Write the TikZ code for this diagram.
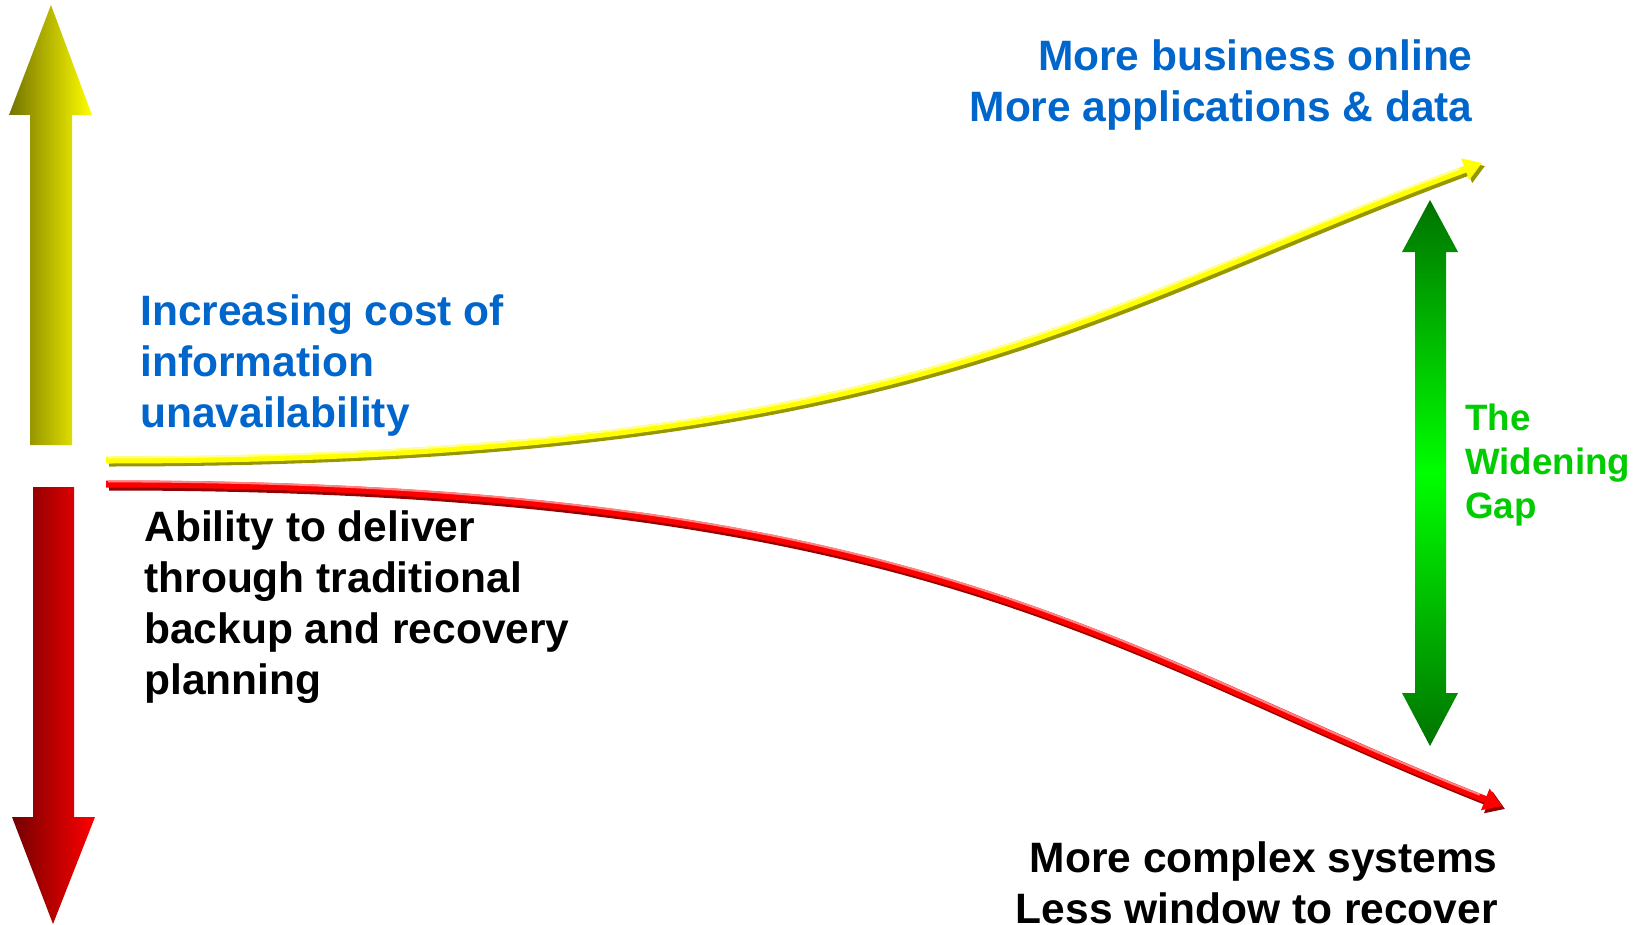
\documentclass[tikz,border=0pt]{standalone}
\usepackage{fontspec}
\setmainfont{Liberation Sans}
\usetikzlibrary{arrows.meta}
\definecolor{tblue}{RGB}{0,102,204}
\definecolor{tgreen}{RGB}{0,204,0}
\definecolor{ylight}{RGB}{255,255,150}
\definecolor{ymain}{RGB}{255,255,0}
\definecolor{ydark}{RGB}{150,150,0}
\definecolor{rlight}{RGB}{255,130,130}
\definecolor{rmain}{RGB}{255,0,0}
\definecolor{rdark}{RGB}{150,0,0}
\definecolor{ydeep}{RGB}{115,115,0}
\definecolor{rdeep}{RGB}{115,0,0}
\definecolor{gdeep}{RGB}{0,115,0}
\definecolor{gbright}{RGB}{0,255,0}
\begin{document}
\begin{tikzpicture}[x=0.5pt,y=-0.5pt,
  lbl/.style={font=\bfseries\fontsize{21.25}{25.5}\selectfont, inner sep=0pt, align=left},
  gaplbl/.style={font=\bfseries\fontsize{18.35}{22}\selectfont, inner sep=0pt, align=left, text=tgreen},
  tip/.style={-{Triangle[length=9pt,width=11pt]}},
  shadowline/.style={line width=3.5pt, tip, transform canvas={shift={(1.5pt,-1.5pt)}}},
  mainline/.style={line width=3.5pt, tip},
  highline/.style={line width=1pt, shorten >=12pt, shorten <=1pt, transform canvas={shift={(0pt,1.3pt)}}}
]
\useasboundingbox (0,0) rectangle (1647,925);

% big side arrows
\shade[left color=ydeep, right color=ymain] (51,5) -- (92,115) -- (72,115) -- (72,445) -- (30,445) -- (30,115) -- (9,115) -- cycle;
\shade[left color=rdeep, right color=rmain] (33,487) -- (74,487) -- (74,817) -- (95,817) -- (53,924) -- (12,817) -- (33,817) -- cycle;
\shade[top color=gdeep, bottom color=gdeep, middle color=gbright] (1430,200) -- (1458,252) -- (1446,252) -- (1446,693) -- (1458,693) -- (1430,746) -- (1402,693) -- (1415,693) -- (1415,252) -- (1402,252) -- cycle;

% curves
\coordinate (ys) at (106,460);
\coordinate (ye) at (1482,163);
\coordinate (rs) at (106,484);
\coordinate (re) at (1502,806);

\draw[ydark, shadowline] (ys) .. controls +(800,0) and +(-394,145) .. (ye);
\draw[ymain, mainline] (ys) .. controls +(800,0) and +(-394,145) .. (ye);
\draw[ylight, highline] (ys) .. controls +(800,0) and +(-394,145) .. (ye);

\draw[rdark, shadowline] (rs) .. controls +(820,0) and +(-391,-154) .. (re);
\draw[rmain, mainline] (rs) .. controls +(820,0) and +(-391,-154) .. (re);
\draw[rlight, highline] (rs) .. controls +(820,0) and +(-391,-154) .. (re);

% labels (anchor base = baseline of the last line)
\node[lbl, text=tblue, anchor=base east, align=right] (top) at (1473,122) {More business online\\More applications \& data};
\node[lbl, text=tblue, anchor=base west] (cost) at (140,427) {Increasing cost of\\information\\unavailability};
\node[lbl, anchor=base west] (ability) at (144,694) {Ability to deliver\\through traditional\\backup and recovery\\planning};
\node[lbl, anchor=base east, align=right] (bottom) at (1498,923) {More complex systems\\Less window to recover};
\node[gaplbl, anchor=base west] (gap) at (1465,518) {The\\Widening\\Gap};
\end{tikzpicture}
\end{document}
